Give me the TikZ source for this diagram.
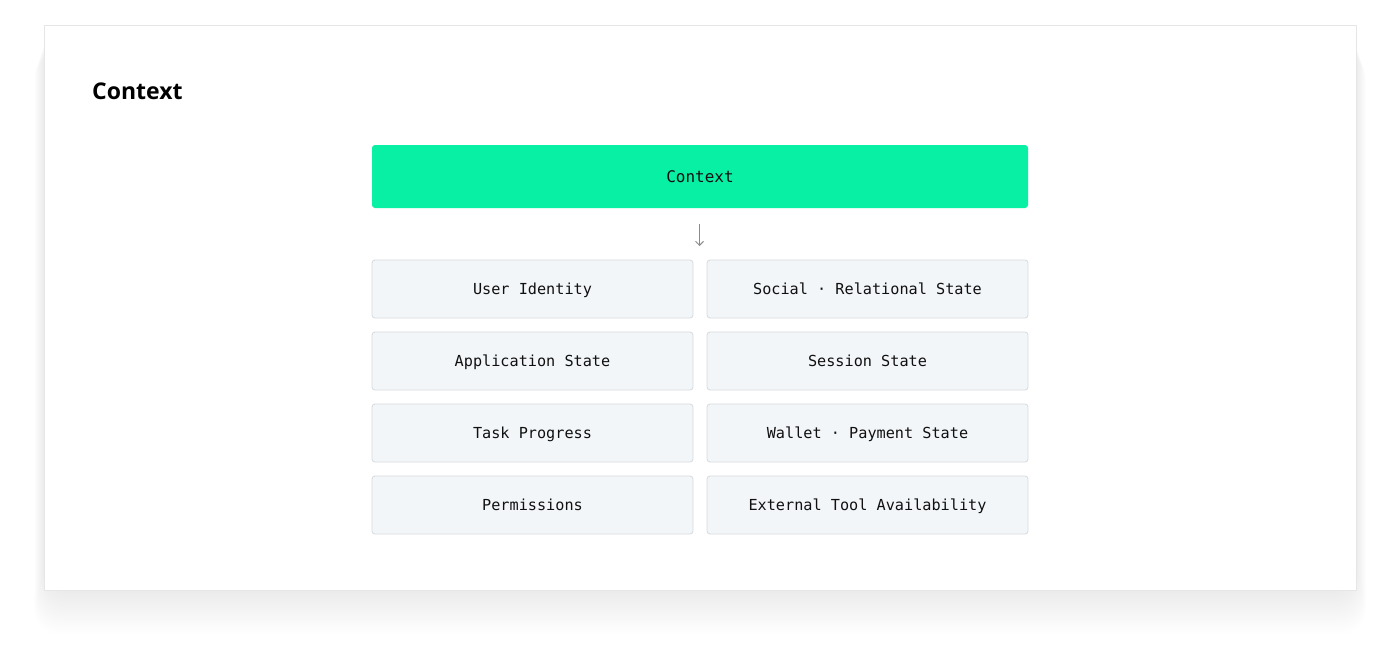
\documentclass[tikz,border=0pt]{standalone}
\usepackage{fontspec}
\setmainfont{Open Sans}
\setmonofont{DejaVu Sans Mono}
\usetikzlibrary{positioning,arrows.meta}
\definecolor{cardborder}{HTML}{E4E6E8}
\definecolor{ctxgreen}{HTML}{08F0A4}
\definecolor{cellfill}{HTML}{F3F6F9}
\definecolor{cellborder}{HTML}{D6DBDF}
\definecolor{txt}{HTML}{101010}
\definecolor{arrowgray}{HTML}{8A8A8A}
\begin{document}
\begin{tikzpicture}[x=1pt,y=-1pt,
  cell/.style={draw=cellborder,fill=cellfill,rounded corners=3pt,line width=0.8pt,
    minimum width=321pt,minimum height=58pt,inner sep=0pt,text height=11pt,text depth=0pt,
    font=\ttfamily\fontsize{15.2}{18}\selectfont,text=txt,anchor=center},
  headbox/.style={fill=ctxgreen,rounded corners=3pt,minimum width=656pt,minimum height=63pt,
    inner sep=0pt,text height=12pt,text depth=0pt,font=\ttfamily\fontsize{16}{19}\selectfont,text=txt,anchor=center}]
\useasboundingbox (0,0) rectangle (1400,654);
\fill[white] (0,0) rectangle (1400,654);
% soft shadow
\foreach \i in {1,...,20}{
  \fill[black,opacity=0.0022,rounded corners=25pt] (44-\i*0.5,25+\i*1.5) rectangle (1356+\i*0.5,590+\i*2.2);
}
\draw[cardborder,fill=white,line width=0.8pt] (44,25) rectangle (1356,590);
\node[anchor=base west,font=\bfseries\fontsize{23}{28}\selectfont,text=black,inner sep=0pt] (title) at (92,99) {Context};
\node[headbox] (ctx) at (700,176.5) {Context};
\coordinate (arrtop) at (699.5,224);
\coordinate (arrbot) at (699.5,246);
\draw[arrowgray,line width=1pt,-{Straight Barb[length=4pt,width=8pt]}] (arrtop) -- (arrbot);
\node[cell] (ui) at (532.5,289) {User Identity};
\node[cell] (soc) at (867.5,289) {Social · Relational State};
\node[cell] (app) at (532.5,361) {Application State};
\node[cell] (ses) at (867.5,361) {Session State};
\node[cell] (task) at (532.5,433) {Task Progress};
\node[cell] (wal) at (867.5,433) {Wallet · Payment State};
\node[cell] (perm) at (532.5,505) {Permissions};
\node[cell] (ext) at (867.5,505) {External Tool Availability};
\end{tikzpicture}
\end{document}
